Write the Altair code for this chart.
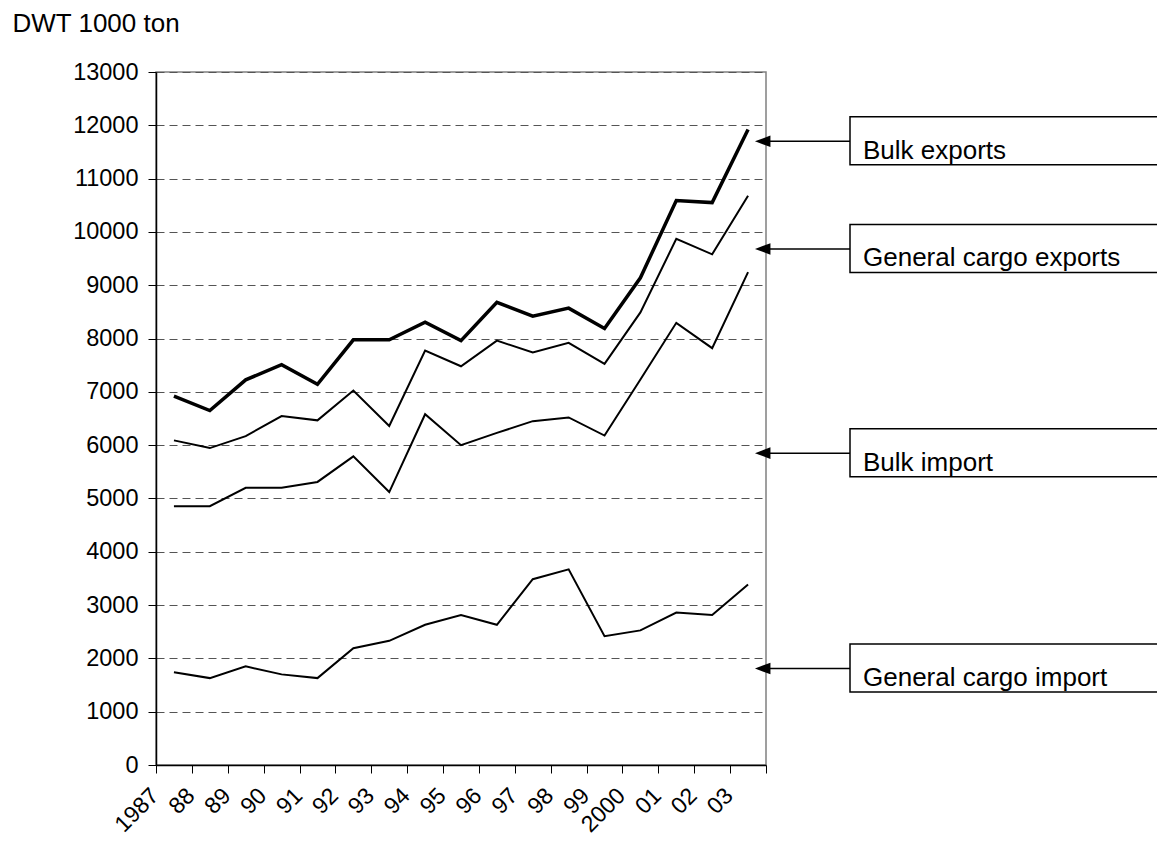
import altair as alt
import pandas as pd

# Category labels along the x axis
years = ["1987", "88", "89", "90", "91", "92", "93", "94", "95", "96",
         "97", "98", "99", "2000", "01", "02", "03"]

# Deadweight tonnage, thousand tons
bulk_exports = [6920, 6650, 7225, 7510, 7140, 7975, 7975, 8305, 7960, 8680,
                8420, 8570, 8190, 9140, 10590, 10550, 11920]
general_cargo_exports = [6090, 5945, 6170, 6545, 6465, 7025, 6360, 7775, 7480, 7960,
                         7740, 7920, 7525, 8490, 9870, 9580, 10680]
bulk_import = [4855, 4855, 5200, 5200, 5310, 5790, 5120, 6580, 6000, 6230,
               6450, 6520, 6180, 7230, 8295, 7820, 9245]
general_cargo_import = [1740, 1630, 1850, 1700, 1630, 2190, 2330, 2630, 2815, 2630,
                        3485, 3670, 2415, 2525, 2860, 2815, 3385]

series_names = ["Bulk exports", "General cargo exports", "Bulk import", "General cargo import"]
series_values = [bulk_exports, general_cargo_exports, bulk_import, general_cargo_import]

# Level on the y scale that each callout arrow points to
callout_levels = [11700, 9680, 5850, 1810]

rows = []
for name, vals in zip(series_names, series_values):
    for yr, v in zip(years, vals):
        rows.append({"year": yr, "series": name, "value": v})
df = pd.DataFrame(rows)

callouts = pd.DataFrame({"label": series_names, "level": callout_levels})

FONT = "Liberation Sans"

x_enc = alt.X(
    "year:N",
    sort=years,
    scale=alt.Scale(type="band", paddingInner=0, paddingOuter=0),
    axis=alt.Axis(
        title=None,
        tickBand="extent",
        tickSize=8,
        tickColor="black",
        domainColor="black",
        domainWidth=1.5,
        grid=False,
        labelAngle=-45,
        labelAlign="right",
        labelBaseline="top",
        labelOffset=-27,
        labelPadding=11,
        labelFontSize=23,
        labelColor="black",
        labelFont=FONT,
    ),
)

y_scale = alt.Scale(domain=[0, 13000], nice=False, zero=True)

y_axis = alt.Axis(
    values=list(range(0, 13001, 1000)),
    format="d",
    tickSize=8,
    tickColor="black",
    domainColor="black",
    domainWidth=1.5,
    grid=True,
    gridColor="#555555",
    gridDash=[8, 5],
    gridWidth=1,
    labelFontSize=23.5,
    labelColor="black",
    labelFont=FONT,
    labelPadding=10,
    title="DWT 1000 ton",
    titleAngle=0,
    titleAlign="left",
    titleBaseline="alphabetic",
    titleX=-144,
    titleY=-41,
    titleFontSize=26,
    titleFontWeight="normal",
    titleColor="black",
    titleFont=FONT,
)

lines = alt.Chart(df).mark_line(color="black", strokeJoin="miter").encode(
    x=x_enc,
    y=alt.Y("value:Q", scale=y_scale, axis=y_axis),
    detail="series:N",
    strokeWidth=alt.StrokeWidth(
        "series:N",
        scale=alt.Scale(type="ordinal", domain=series_names, range=[3.5, 2, 2, 2]),
        legend=None,
    ),
)

level_y = alt.Y("level:Q", scale=y_scale, axis=y_axis)

boxes = alt.Chart(callouts).mark_rect(
    fill="white", stroke="black", strokeWidth=1.5, yOffset=-24.5, y2Offset=23.5
).encode(
    x=alt.value(694),
    x2=alt.value(1150),
    y=level_y,
    y2=alt.Y2("level:Q"),
)

shafts = alt.Chart(callouts).mark_rule(color="black", strokeWidth=1.5).encode(
    x=alt.value(606),
    x2=alt.value(694),
    y=level_y,
)

heads = alt.Chart(callouts).mark_point(
    shape="M -1 0 L 1 -0.75 L 1 0.75 Z",
    size=240,
    filled=True,
    color="black",
    opacity=1,
).encode(
    x=alt.value(606.7),
    y=level_y,
)

labels = alt.Chart(callouts).mark_text(
    align="left", baseline="alphabetic", dy=17.5, fontSize=26, font=FONT, color="black"
).encode(
    x=alt.value(707),
    y=level_y,
    text="label:N",
)

chart = (
    alt.layer(lines, boxes, shafts, heads, labels)
    .resolve_scale(y="shared")
    .properties(
        width=610,
        height=693,
        autosize=alt.AutoSizeParams(type="none"),
        padding={"left": 156, "top": 72, "right": 391, "bottom": 78},
        background="white",
    )
    .configure_view(stroke="#808080", strokeWidth=1.5)
)

chart.save("out.html", embed_options={"renderer": "svg", "actions": False})
